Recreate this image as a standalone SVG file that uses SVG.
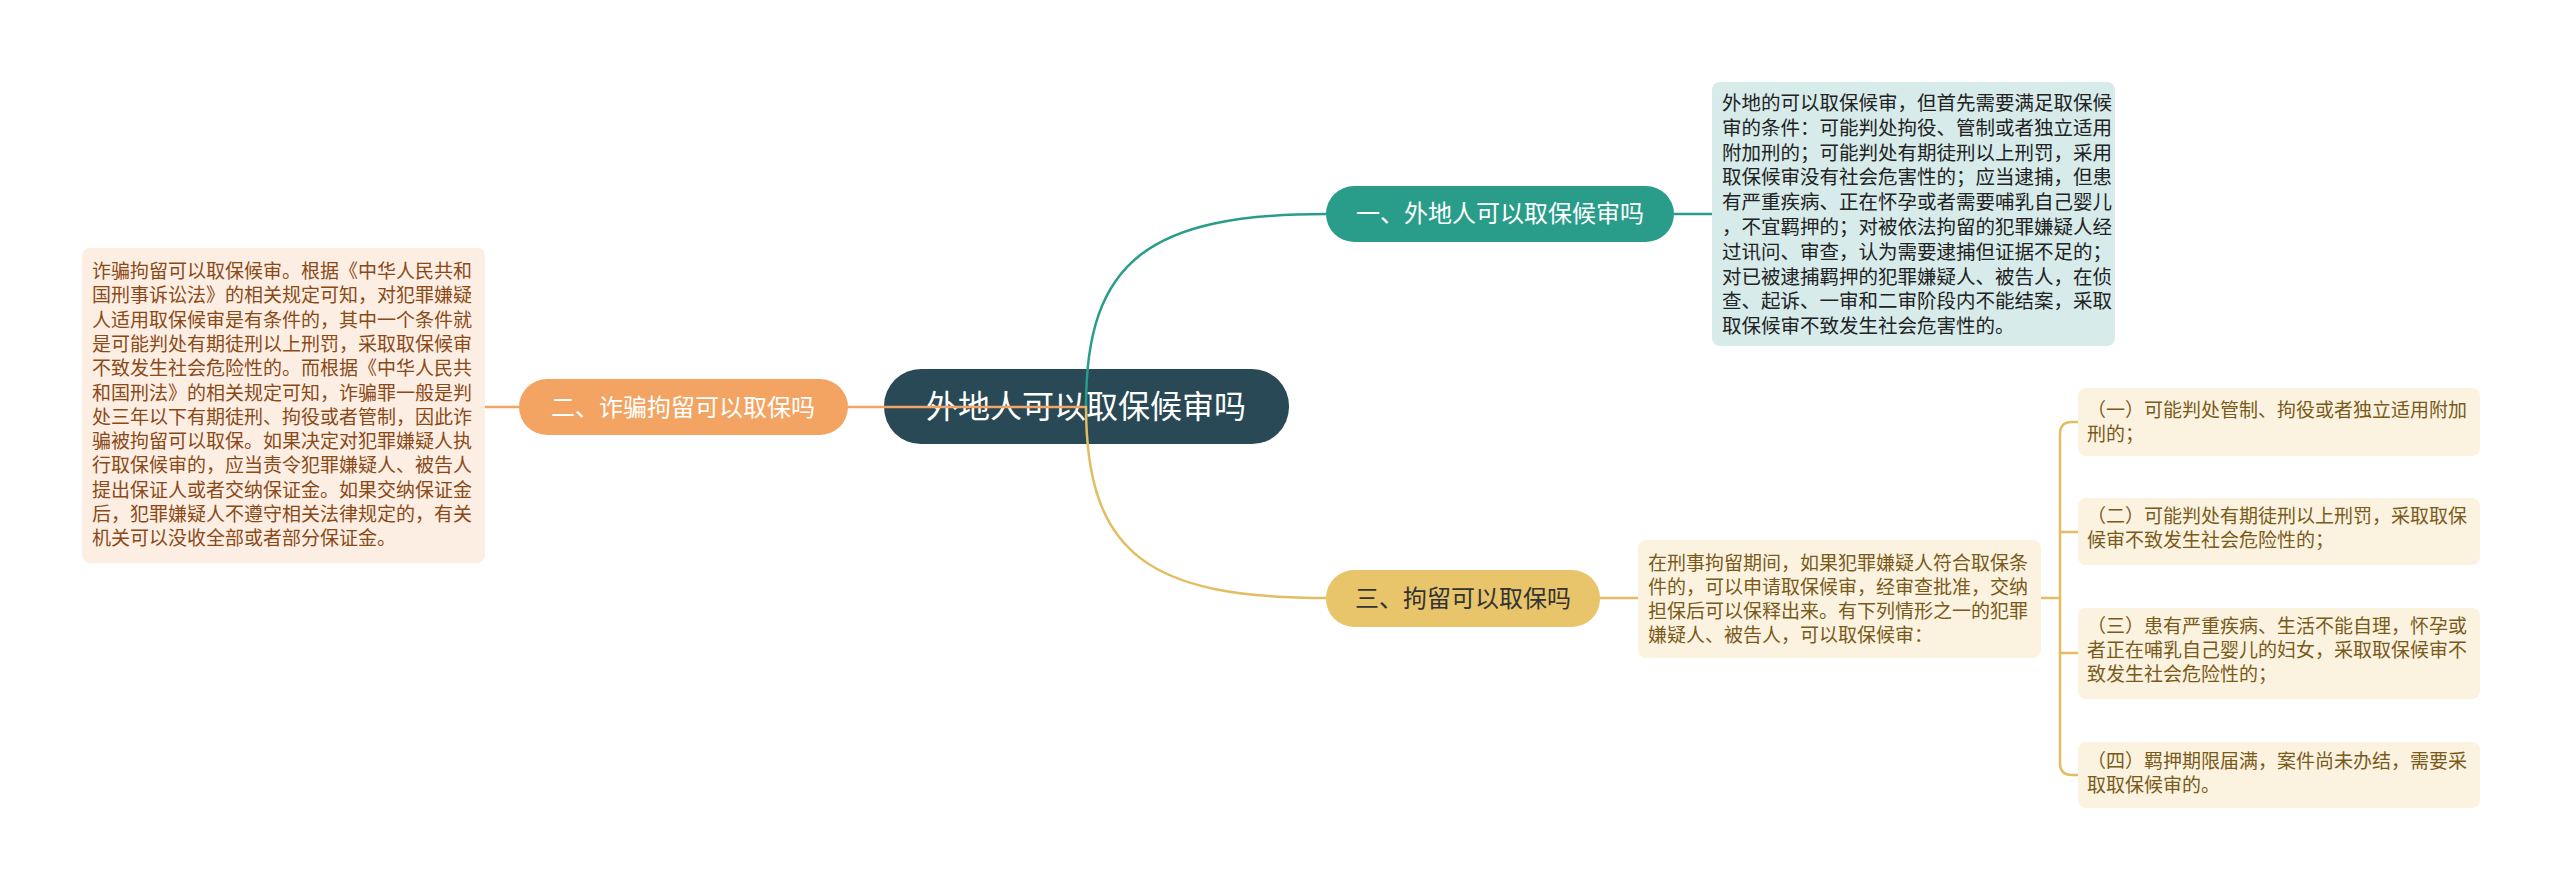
<svg xmlns="http://www.w3.org/2000/svg" width="2560" height="891" viewBox="0 0 2560 891">
<style>
text{font-family:"Noto Sans CJK SC","Noto Sans",sans-serif}
.c{fill:#fff;font-size:32px}
.b{font-size:24px}
.t1{fill:#222;font-size:19.5px}
.t2{fill:#8a4a18;font-size:19px}
.t3{fill:#7a5a1a;font-size:19px}
.cn{fill:none;stroke-width:2.5}
</style>
<rect width="2560" height="891" fill="#fff"/>
<g id="center"><rect x="884" y="369" width="405" height="75" rx="37" fill="#284955"/><text class="c" x="1086" y="418" text-anchor="middle">外地人可以取保候审吗</text></g>
<g id="b1"><rect x="1326" y="186" width="348" height="56" rx="28" fill="#2a9d8a"/><text class="b" x="1500" y="222" text-anchor="middle" fill="#fff">一、外地人可以取保候审吗</text></g>
<g id="b2"><rect x="519" y="379" width="329" height="56" rx="28" fill="#f3a462"/><text class="b" x="683" y="416" text-anchor="middle" fill="#fff">二、诈骗拘留可以取保吗</text></g>
<g id="b3"><rect x="1326" y="570" width="274" height="57" rx="28" fill="#e8c56a"/><text class="b" x="1463" y="607" text-anchor="middle" fill="#333">三、拘留可以取保吗</text></g>
<g id="d1"><rect x="1712" y="82" width="403" height="264" rx="8" fill="#d6ebea"/>
<text class="t1"><tspan x="1722" y="110">外地的可以取保候审，但首先需要满足取保候</tspan><tspan x="1722" y="134.8">审的条件：可能判处拘役、管制或者独立适用</tspan><tspan x="1722" y="159.6">附加刑的；可能判处有期徒刑以上刑罚，采用</tspan><tspan x="1722" y="184.4">取保候审没有社会危害性的；应当逮捕，但患</tspan><tspan x="1722" y="209.2">有严重疾病、正在怀孕或者需要哺乳自己婴儿</tspan><tspan x="1722" y="234">，不宜羁押的；对被依法拘留的犯罪嫌疑人经</tspan><tspan x="1722" y="258.8">过讯问、审查，认为需要逮捕但证据不足的；</tspan><tspan x="1722" y="283.6">对已被逮捕羁押的犯罪嫌疑人、被告人，在侦</tspan><tspan x="1722" y="308.4">查、起诉、一审和二审阶段内不能结案，采取</tspan><tspan x="1722" y="333.2">取保候审不致发生社会危害性的。</tspan></text></g>
<g id="d2"><rect x="82" y="248" width="403" height="315" rx="8" fill="#fdeee3"/>
<text class="t2"><tspan x="92" y="278">诈骗拘留可以取保候审。根据《中华人民共和</tspan><tspan x="92" y="302.3">国刑事诉讼法》的相关规定可知，对犯罪嫌疑</tspan><tspan x="92" y="326.6">人适用取保候审是有条件的，其中一个条件就</tspan><tspan x="92" y="350.9">是可能判处有期徒刑以上刑罚，采取取保候审</tspan><tspan x="92" y="375.2">不致发生社会危险性的。而根据《中华人民共</tspan><tspan x="92" y="399.5">和国刑法》的相关规定可知，诈骗罪一般是判</tspan><tspan x="92" y="423.8">处三年以下有期徒刑、拘役或者管制，因此诈</tspan><tspan x="92" y="448.1">骗被拘留可以取保。如果决定对犯罪嫌疑人执</tspan><tspan x="92" y="472.4">行取保候审的，应当责令犯罪嫌疑人、被告人</tspan><tspan x="92" y="496.7">提出保证人或者交纳保证金。如果交纳保证金</tspan><tspan x="92" y="521">后，犯罪嫌疑人不遵守相关法律规定的，有关</tspan><tspan x="92" y="545.3">机关可以没收全部或者部分保证金。</tspan></text></g>
<g id="d3"><rect x="1638" y="540" width="403" height="118" rx="8" fill="#fbf3e0"/>
<text class="t3"><tspan x="1648" y="570">在刑事拘留期间，如果犯罪嫌疑人符合取保条</tspan><tspan x="1648" y="594">件的，可以申请取保候审，经审查批准，交纳</tspan><tspan x="1648" y="618">担保后可以保释出来。有下列情形之一的犯罪</tspan><tspan x="1648" y="642">嫌疑人、被告人，可以取保候审：</tspan></text></g>
<g id="l1"><rect x="2078" y="388" width="402" height="68" rx="8" fill="#fbf3e0"/><text class="t3"><tspan x="2087" y="417">（一）可能判处管制、拘役或者独立适用附加</tspan><tspan x="2087" y="441">刑的；</tspan></text></g>
<g id="l2"><rect x="2078" y="498" width="402" height="67" rx="8" fill="#fbf3e0"/><text class="t3"><tspan x="2087" y="523">（二）可能判处有期徒刑以上刑罚，采取取保</tspan><tspan x="2087" y="547">候审不致发生社会危险性的；</tspan></text></g>
<g id="l3"><rect x="2078" y="608" width="402" height="91" rx="8" fill="#fbf3e0"/><text class="t3"><tspan x="2087" y="633">（三）患有严重疾病、生活不能自理，怀孕或</tspan><tspan x="2087" y="657">者正在哺乳自己婴儿的妇女，采取取保候审不</tspan><tspan x="2087" y="681">致发生社会危险性的；</tspan></text></g>
<g id="l4"><rect x="2078" y="742" width="402" height="66" rx="8" fill="#fbf3e0"/><text class="t3"><tspan x="2087" y="768">（四）羁押期限届满，案件尚未办结，需要采</tspan><tspan x="2087" y="792">取取保候审的。</tspan></text></g>
<g id="connectors">
<path class="cn" stroke="#2a9d8a" d="M1086,406 C1086,260 1150,214 1326,214 M1674,214 H1712"/>
<path class="cn" stroke="#f3a462" d="M1086,407 H848 M519,407 H485"/>
<path class="cn" stroke="#e3bd62" d="M1086,406 C1086,555 1150,598 1326,598 M1600,598 H1638 M2041,598 H2060 M2078,422 H2072 Q2060,422 2060,434 V763 Q2060,775 2072,775 H2078 M2060,532 H2078 M2060,653 H2078"/>
</g>
</svg>
